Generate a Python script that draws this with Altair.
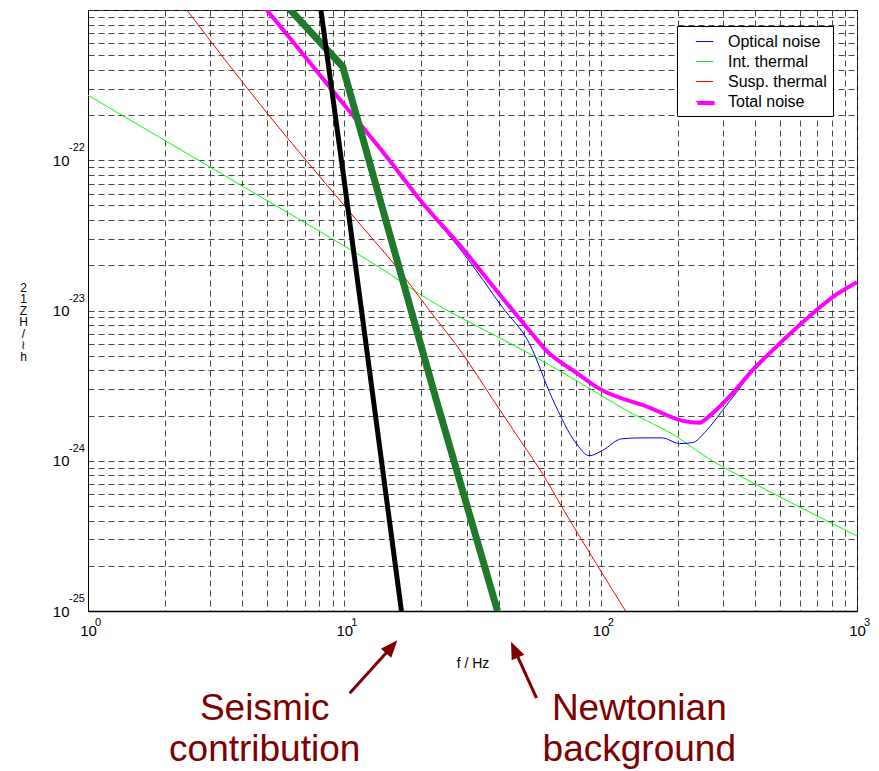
import altair as alt
import pandas as pd

# ---- data (f in Hz, h in 1/sqrt(Hz)) ----
optical_f = [4.5, 4.98, 10.0, 14.6, 20.0, 28.9, 41.4, 52.7, 64.8, 80.4, 90.3, 101.5, 121, 145, 174, 203, 228, 258, 298, 338, 390, 467, 594, 799, 1000]
optical_h = [1.22e-21, 0.99e-21, 2.3e-22, 1.04e-22, 5.2e-23, 2.45e-23, 1.05e-23, 6.03e-24, 2.59e-24, 1.30e-24, 1.08e-24, 1.17e-24, 1.40e-24, 1.42e-24, 1.42e-24, 1.30e-24, 1.32e-24, 1.58e-24, 2.15e-24, 2.84e-24, 3.9e-24, 5.3e-24, 7.8e-24, 1.2e-23, 1.52e-23]

int_f = [1, 4.98, 8.77, 13.7, 21.5, 33.7, 52.7, 80.4, 133, 190, 272, 379, 1000]
int_h = [2.71e-22, 5.41e-23, 3.07e-23, 1.94e-23, 1.17e-23, 7.7e-24, 5.17e-24, 3.41e-24, 2.06e-24, 1.51e-24, 1.0e-24, 7.36e-25, 3.16e-25]

susp_f = [2.0, 2.43, 5.03, 8.77, 11.8, 16.0, 21.5, 28.9, 37.8, 49.5, 59.3, 70.9, 96.2, 126]
susp_h = [1.55e-21, 1.0e-21, 2.03e-22, 6.5e-23, 3.57e-23, 1.94e-23, 1.0e-23, 5.17e-24, 2.59e-24, 1.30e-24, 8.2e-25, 4.86e-25, 2.06e-25, 9.8e-26]

total_f = [4.5, 4.98, 10.0, 14.6, 20.0, 28.9, 39.2, 52.7, 61.4, 80.4, 98.8, 155, 208, 242, 272, 326, 390, 467, 594, 799, 1000]
total_h = [1.23e-21, 1.0e-21, 2.33e-22, 1.06e-22, 5.3e-23, 2.59e-23, 1.36e-23, 7.36e-24, 5.4e-24, 3.86e-24, 3.02e-24, 2.26e-24, 1.85e-24, 1.79e-24, 2.06e-24, 2.80e-24, 3.98e-24, 5.41e-24, 7.94e-24, 1.22e-23, 1.54e-23]

seis_f = [8.0, 8.1, 10.0, 12.0, 16.7]
seis_h = [1.2e-21, 1.0e-21, 7.2e-23, 7.0e-24, 1.0e-25]

newt_f = [5.9, 6.0, 9.85, 22.9, 39.6]
newt_h = [1.1e-21, 1.05e-21, 4.2e-22, 2.5e-24, 1.0e-25]

series_names = ["Optical noise", "Int. thermal", "Susp. thermal", "Total noise"]
series_colors = ["#0000FF", "#00FF00", "#FF0000", "#FF00FF"]

x_ticks = [1, 2, 3, 4, 5, 6, 7, 8, 9, 10, 20, 30, 40, 50, 60, 70, 80, 90,
           100, 200, 300, 400, 500, 600, 700, 800, 900, 1000]
x_major = [1, 10, 100, 1000]
x_major_exp = ["0", "1", "2", "3"]

y_ticks = []
for e in [-25, -24, -23, -22]:
    for m in range(1, 10):
        y_ticks.append(float(f"{m}e{e}"))
y_ticks.append(1e-21)
y_major = [1e-25, 1e-24, 1e-23, 1e-22]
y_major_exp = ["-25", "-24", "-23", "-22"]

ytitle_lines = ["2", "1", "Z", "H", "/", "≀", "h"]

# annotations (data coordinates, below the axis)
ann_text = ["Seismic", "contribution", "Newtonian", "background"]
ann_f = [4.89, 4.89, 141.5, 141.5]
ann_h = [1.87e-26, 1.0e-26, 1.87e-26, 1.0e-26]

arrow_tail_f = [10.49, 56.2]
arrow_tail_h = [2.84e-26, 2.63e-26]
arrow_head_f = [15.15, 46.4]
arrow_head_h = [5.67e-26, 5.4e-26]
arrow_angle = [41, 336]

# ---- build tables ----
order_draw = ["Int. thermal", "Susp. thermal", "Optical noise", "Total noise"]
src = {"Optical noise": (optical_f, optical_h), "Int. thermal": (int_f, int_h),
       "Susp. thermal": (susp_f, susp_h), "Total noise": (total_f, total_h)}
rows = []
for k, name in enumerate(order_draw):
    fs, hs = src[name]
    for i, (f, h) in enumerate(zip(fs, hs)):
        rows.append({"series": name, "f": f, "h": h, "i": i, "k": k})
df = pd.DataFrame(rows)
df_total = pd.DataFrame({"series": "Total noise", "f": total_f, "h": total_h,
                         "i": list(range(len(total_f)))})

df_seis = pd.DataFrame({"f": seis_f, "h": seis_h})
df_newt = pd.DataFrame({"f": newt_f, "h": newt_h})
df_ann = pd.DataFrame({"text": ann_text, "f": ann_f, "h": ann_h})
df_arrow = pd.DataFrame({"f": arrow_tail_f, "h": arrow_tail_h, "f2": arrow_head_f,
                         "h2": arrow_head_h, "angle": arrow_angle})
df_xexp = pd.DataFrame({"f": x_major, "h": [1e-25] * len(x_major), "t": x_major_exp})
df_yexp = pd.DataFrame({"f": [1] * len(y_major), "h": y_major, "t": y_major_exp})

FONT = "Liberation Sans"

x_label_expr = " || ".join(f"datum.value == {v}" for v in x_major) + " ? '10' : ''"
y_label_expr = " || ".join(f"datum.value == {v!r}" for v in y_major) + " ? '10' : ''"

xscale = alt.Scale(type="log", domain=[1, 1000])
yscale = alt.Scale(type="log", domain=[1e-25, 1e-21])

GRID = "#333"
x_axis = alt.Axis(values=x_ticks, labelExpr=x_label_expr, grid=True, gridDash=[6, 4],
                  gridColor=GRID, gridOpacity=0.9, ticks=False, labelFontSize=15,
                  labelFont=FONT, labelColor="black", labelPadding=12, labelFlush=False,
                  labelOverlap=False,
                  title="f / Hz", titleFont=FONT, titleFontSize=14, titleFontWeight="normal",
                  titleY=52, titleBaseline="middle", titleColor="black",
                  domainColor="black", domainWidth=1.5)
y_axis = alt.Axis(values=y_ticks, labelExpr=y_label_expr, grid=True, gridDash=[6, 4],
                  gridColor=GRID, gridOpacity=0.9, ticks=False, labelFontSize=15,
                  labelFont=FONT, labelColor="black", labelPadding=19, labelFlush=False,
                  labelOverlap=False,
                  title=ytitle_lines, titleAngle=0, titleX=-65, titleY=272,
                  titleAlign="center", titleBaseline="top", titleFont=FONT,
                  titleFontSize=12, titleLineHeight=11.5, titleFontWeight="normal",
                  titleColor="black", domainColor="black")

leg = alt.Legend(title=None, orient="none", legendX=589, legendY=16,
                 symbolType="stroke", symbolSize=300, symbolOffset=12, symbolStrokeWidth=1,
                 labelFontSize=16, labelFont=FONT, labelColor="black",
                 labelExpr="datum.label + '\u00a0\u00a0\u00a0\u00a0\u00a0\u00a0\u00a0\u00a0\u00a0'",
                 strokeColor="black", fillColor="white",
                 padding=6, rowPadding=2, labelOffset=14, cornerRadius=0)
leg_thick = alt.Legend(title=None, orient="none", legendX=595, legendY=82,
                       symbolType="stroke", symbolSize=300, symbolOffset=12, symbolStrokeWidth=4,
                       labelExpr="''", labelFontSize=16, padding=0, labelOffset=14)

lines = alt.Chart(df).mark_line(clip=True, interpolate="monotone", strokeWidth=1).encode(
    x=alt.X("f:Q", scale=xscale, axis=x_axis),
    y=alt.Y("h:Q", scale=yscale, axis=y_axis),
    color=alt.Color("series:N", scale=alt.Scale(domain=series_names, range=series_colors),
                    legend=leg),
    detail="k:N",
    order="i:Q",
)
total_thick = alt.Chart(df_total).mark_line(clip=True, interpolate="monotone", strokeWidth=4).encode(
    x=alt.X("f:Q", scale=xscale),
    y=alt.Y("h:Q", scale=yscale),
    color=alt.Color("series:N", scale=alt.Scale(domain=series_names[3:], range=series_colors[3:]),
                    legend=leg_thick),
    order="i:Q",
)

newt = alt.Chart(df_newt).mark_line(clip=True, color="#1F7A2C", strokeWidth=7).encode(
    x=alt.X("f:Q", scale=xscale), y=alt.Y("h:Q", scale=yscale))
seis = alt.Chart(df_seis).mark_line(clip=True, color="black", strokeWidth=5).encode(
    x=alt.X("f:Q", scale=xscale), y=alt.Y("h:Q", scale=yscale))

xexp = alt.Chart(df_xexp).mark_text(clip=False, font=FONT, fontSize=11, color="black",
                                   align="left", baseline="top", dx=7, dy=6).encode(
    x=alt.X("f:Q", scale=xscale), y=alt.Y("h:Q", scale=yscale), text="t:N")
yexp = alt.Chart(df_yexp).mark_text(clip=False, font=FONT, fontSize=11, color="black",
                                   align="left", baseline="middle", dx=-19, dy=-12).encode(
    x=alt.X("f:Q", scale=xscale), y=alt.Y("h:Q", scale=yscale), text="t:N")

ann = alt.Chart(df_ann).mark_text(clip=False, font=FONT, fontSize=37, color="#800000",
                                  align="center", baseline="alphabetic").encode(
    x=alt.X("f:Q", scale=xscale), y=alt.Y("h:Q", scale=yscale), text="text:N")

shafts = alt.Chart(df_arrow).mark_rule(clip=False, color="#800000", strokeWidth=3).encode(
    x=alt.X("f:Q", scale=xscale), y=alt.Y("h:Q", scale=yscale),
    x2="f2:Q", y2="h2:Q")
heads = alt.Chart(df_arrow).mark_point(clip=False, shape="M0,-1.2L0.8,0.8L-0.8,0.8Z", filled=True,
                                       color="#800000", opacity=1, size=300).encode(
    x=alt.X("f2:Q", scale=xscale), y=alt.Y("h2:Q", scale=yscale),
    angle=alt.Angle("angle:Q", scale=None))

chart = alt.layer(lines, total_thick, newt, seis, xexp, yexp, shafts, heads, ann).properties(
    width=769, height=601,
    autosize=alt.AutoSizeParams(type="none"),
    padding={"left": 80, "top": 2, "right": 14, "bottom": 158},
    background="white",
).resolve_scale(color="independent").resolve_legend(color="independent").configure_view(
    stroke="black", strokeWidth=1)

chart.save("out.html", embed_options={"renderer": "svg", "actions": False})
